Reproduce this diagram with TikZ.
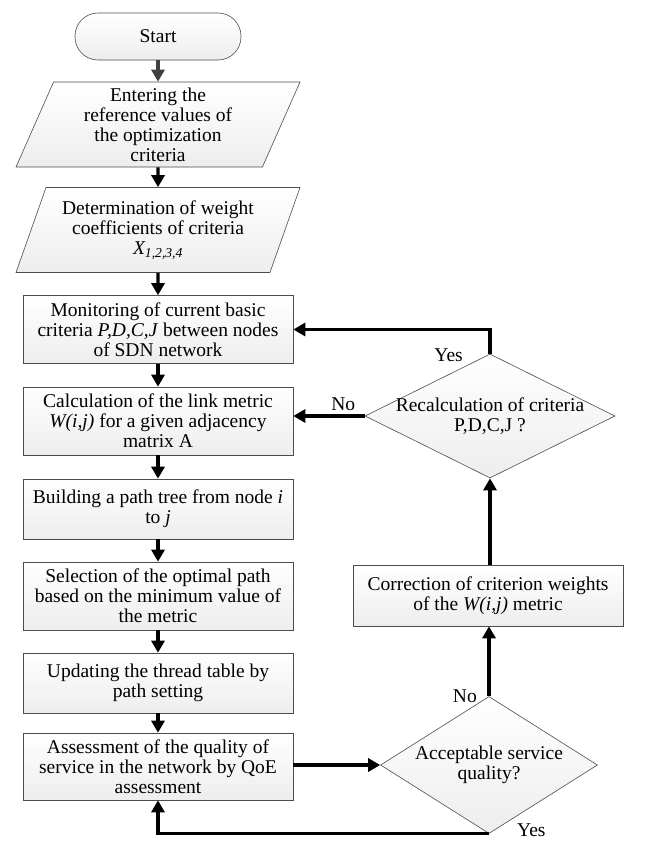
\documentclass[tikz,border=0pt]{standalone}
\usepackage{fontspec}
\setmainfont{Liberation Serif}
\usetikzlibrary{arrows.meta,shapes.geometric}

\begin{document}
\begin{tikzpicture}[x=1pt, y=-1pt, font=\fontsize{19.5}{20}\selectfont]
\tikzstyle{every node} = [inner sep=2pt, align=center]
\tikzstyle{shaded} = [draw=gray!60!black, line width=0.6pt, top color=white, bottom color=gray!14]
\tikzstyle{stepbox} = [shaded, rectangle, minimum width=270, minimum height=60]
\tikzstyle{inputbox} = [shaded, trapezium, trapezium left angle=63, trapezium right angle=117,
	trapezium stretches body, minimum width=284, minimum height=85, inner sep=0pt]
\tikzstyle{decision} = [shaded, diamond, inner sep=-6pt]
\tikzstyle{flow} = [line width=3.2pt, -{Triangle[length=12pt, width=13pt]}]
\tikzstyle{lbl} = [inner sep=0pt]
\useasboundingbox (0,0) rectangle (645,857);
\node[shaded, rectangle, rounded corners=23pt, minimum width=166, minimum height=47] (start) at (158,36.5) {Start};
\node[inputbox] (ref) at (158,124.5) {Entering the\\reference values of\\the optimization\\criteria};
\node[inputbox] (weights) at (158,230) {Determination of weight\\coefficients of criteria\\\textit{X\textsubscript{1,2,3,4}}};
\node[stepbox, minimum height=68] (monitor) at (158,329.5) {Monitoring of current basic\\criteria \textit{P,D,C,J} between nodes\\of SDN network};
\node[stepbox, minimum height=68] (metric) at (158,421) {Calculation of the link metric\\\textit{W(i,j)} for a given adjacency\\matrix A};
\node[stepbox] (tree) at (158,509) {Building a path tree from node \textit{i}\\to \textit{j}};
\node[stepbox, minimum height=68] (select) at (158,596) {Selection of the optimal path\\based on the minimum value of\\the metric};
\node[stepbox] (update) at (158,683) {Updating the thread table by\\path setting};
\node[stepbox, minimum height=67] (qoe) at (158,766.5) {Assessment of the quality of\\service in the network by QoE\\assessment};
\node[decision, aspect=2, minimum width=250, minimum height=124] (recalc) at (490,416) {Recalculation of criteria\\P,D,C,J ?};
\node[stepbox, minimum width=270, minimum height=61] (correct) at (488,595.5) {Correction of criterion weights\\of the \textit{W(i,j)} metric};
\node[decision, aspect=1.6, minimum width=217, minimum height=137] (accept) at (489,765) {Acceptable service\\quality?};
\draw[flow, gray!50!black] (start) -- (ref);
\draw[flow] (ref) -- (weights);
\draw[flow] (weights) -- (monitor);
\draw[flow] (monitor) -- (metric);
\draw[flow] (metric) -- (tree);
\draw[flow] (tree) -- (select);
\draw[flow] (select) -- (update);
\draw[flow] (update) -- (qoe);
\draw[flow] (accept.west -| qoe.east) -- (accept.west);
\draw[flow] (accept.north) -- (accept.north |- correct.south);
\draw[flow] (recalc.south |- correct.north) -- (recalc.south);
\draw[flow] (recalc.north) |- (monitor.east);
\draw[flow] (recalc.west) -- node[lbl, above=4pt, pos=0.3] {No} (recalc.west -| metric.east);
\draw[flow] (accept.south) -| (qoe.south);
\node[lbl, anchor=east] (yes1) at ([xshift=-27pt, yshift=-2pt]recalc.north) {Yes};
\node[lbl, anchor=east] (no2) at ([xshift=-12pt]accept.north) {No};
\node[lbl, anchor=west] (yes2) at ([xshift=28pt, yshift=4pt]accept.south) {Yes};
\end{tikzpicture}
\end{document}
